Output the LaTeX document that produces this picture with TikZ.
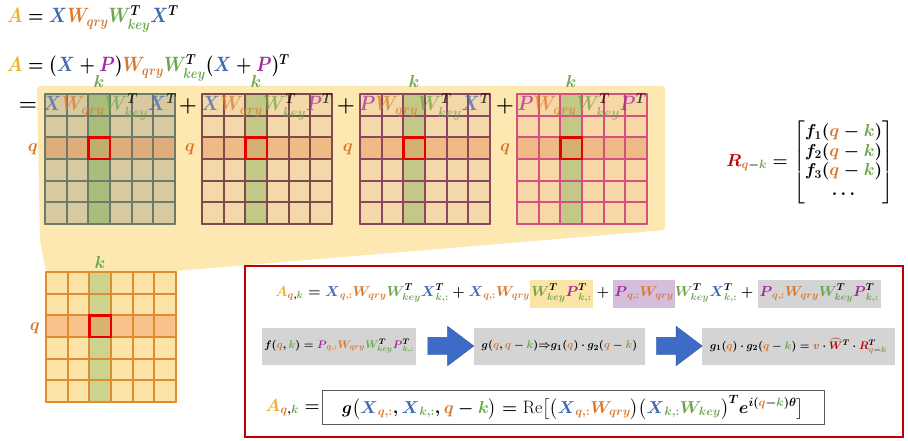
\documentclass[tikz,border=0pt]{standalone}
\usepackage{amsmath,bm,graphicx}
\usetikzlibrary{shapes.arrows,calc}
\definecolor{colA}{HTML}{F0B030}
\definecolor{colX}{HTML}{3E68B2}
\definecolor{colQ}{HTML}{D9782D}
\definecolor{colK}{HTML}{6BA64A}
\definecolor{colP}{HTML}{A5279F}
\definecolor{colR}{HTML}{C00000}
\definecolor{colV}{HTML}{C55A11}
\definecolor{bgY}{HTML}{FCE8B0}
\definecolor{gA}{HTML}{D8C9A0}\definecolor{lA}{HTML}{6E7A6A}
\definecolor{gcA}{HTML}{A9BD7D}\definecolor{grA}{HTML}{DDAE7B}\definecolor{gxA}{HTML}{C4AC6E}
\definecolor{gB}{HTML}{F3D9A9}\definecolor{lB}{HTML}{7E4A4A}
\definecolor{lC}{HTML}{8E4660}
\definecolor{gD}{HTML}{F8D7A6}\definecolor{lD}{HTML}{D4507E}
\definecolor{gcB}{HTML}{C3C887}\definecolor{grB}{HTML}{F0BA86}\definecolor{gxB}{HTML}{D4B070}
\definecolor{gE}{HTML}{FCE4A8}\definecolor{lE}{HTML}{E08C30}
\definecolor{gcE}{HTML}{CDD38F}\definecolor{grE}{HTML}{F7C189}\definecolor{gxE}{HTML}{D8B36D}
\definecolor{hlYc}{HTML}{FCE4A6}
\definecolor{hlPc}{HTML}{D5BDDC}
\definecolor{hlGc}{HTML}{D4D4D4}
\definecolor{arrB}{HTML}{3D6BC6}
\newcommand{\vA}{{\color{colA}A}}
\newcommand{\vX}{{\color{colX}X}}
\newcommand{\vP}{{\color{colP}P}}
\newcommand{\vq}{{\color{colQ}q}}
\newcommand{\vk}{{\color{colK}k}}
\newcommand{\Wqry}{{\color{colQ}W_{qry}}}
\newcommand{\WkeyT}{{\color{colK}W_{key}^{\textcolor{black}{T}}}}
\newcommand{\Wkey}{{\color{colK}W_{key}}}
\newcommand{\subq}{{\color{colQ}q,:}}
\newcommand{\subk}{{\color{colK}k,:}}
\newcommand{\sqz}[2]{\scalebox{#1}[1]{#2}}
\newcommand{\matgrid}[7]{%
  \fill[#3] (#1,#2) rectangle ++(130,130);
  \fill[#5] ({#1+43.33},#2) rectangle ++(21.67,130);
  \fill[#6] (#1,{#2+43.33}) rectangle ++(130,21.67);
  \fill[#7] ({#1+43.33},{#2+43.33}) rectangle ++(21.67,21.67);
  \foreach \gi in {0,...,6}{
    \draw[#4, gline] ({#1+\gi*21.667},#2) -- ++(0,130);
    \draw[#4, gline] (#1,{#2+\gi*21.667}) -- ++(130,0);
  }
  \draw[redsq] ({#1+43.33},{#2+43.33}) rectangle ++(21.67,21.67);
}
\tikzset{
  gline/.style={line width=1.8pt, line cap=round},
  redsq/.style={draw=red!90!black, line width=2.4pt},
  eqbig/.style={font=\boldmath\fontsize{20}{24}\selectfont, inner sep=0},
  hdr/.style={font=\boldmath\fontsize{20}{22}\selectfont, inner sep=0, text opacity=0.72, anchor=base},
  lbl/.style={font=\boldmath\fontsize{18}{20}\selectfont, inner sep=0},
  rowone/.style={font=\boldmath\fontsize{14.7}{18}\selectfont, inner sep=0, anchor=base west},
  hlbox/.style={rowone, inner xsep=1pt, text height=16pt, text depth=12pt},
  gbox/.style={fill=hlGc, font=\boldmath\fontsize{11.2}{13}\selectfont, minimum height=37pt, inner sep=0},
  barrow/.style={single arrow, fill=arrB, draw=arrB!80!black, line width=0.4pt, inner sep=0,
    minimum height=46pt, single arrow head extend=11pt, single arrow tip angle=74},
  rowthree/.style={font=\boldmath\fontsize{18}{22}\selectfont, inner sep=0}
}
\begin{document}
\begin{tikzpicture}[x=1pt,y=-1pt]
\useasboundingbox (0,0) rectangle (908,441);
\fill[white] (0,0) rectangle (908,441);
% top equations
\node[eqbig, anchor=base west] (eq1) at (7,23) {\sqz{0.85}{$\vA = \vX\Wqry\WkeyT\vX^{T}$}};
\node[eqbig, anchor=base west] (eq2) at (7,72) {\sqz{0.85}{$\vA = (\vX+\vP)\Wqry\WkeyT(\vX+\vP)^{T}$}};
% yellow background
\fill[bgY, rounded corners=3pt] (37,86) -- (665,86) -- (665,230) -- (176,271) -- (46,272) -- (40,240) -- cycle;
% grids
\matgrid{45}{94}{gA}{lA}{gcA}{grA}{gxA}
\matgrid{202}{94}{gB}{lB}{gcB}{grB}{gxB}
\matgrid{360}{94}{gB}{lC}{gcB}{grB}{gxB}
\matgrid{517}{94}{gD}{lD}{gcB}{grB}{gxB}
\matgrid{46}{272}{gE}{lE}{gcE}{grE}{gxE}
% headers
\node[hdr] (h1) at (110,111) {\sqz{0.88}{$\vX\Wqry\WkeyT\vX^{T}$}};
\node[hdr] (h2) at (267,111) {\sqz{0.88}{$\vX\Wqry\WkeyT\vP^{T}$}};
\node[hdr] (h3) at (425,111) {\sqz{0.88}{$\vP\Wqry\WkeyT\vX^{T}$}};
\node[hdr] (h4) at (582,111) {\sqz{0.88}{$\vP\Wqry\WkeyT\vP^{T}$}};
% operators
\node[eqbig] (eqs) at (28,106) {$=$};
\node[eqbig] (pl1) at (188,106) {$+$};
\node[eqbig] (pl2) at (346,106) {$+$};
\node[eqbig] (pl3) at (505,106) {$+$};
% k and q labels
\node[lbl] (k1) at (99,82) {$\vk$};
\node[lbl] (k2) at (256,82) {$\vk$};
\node[lbl] (k3) at (414,82) {$\vk$};
\node[lbl] (k4) at (571,82) {$\vk$};
\node[lbl] (k5) at (100,262) {$\vk$};
\node[lbl] (q1) at (33,149) {$\vq$};
\node[lbl] (q2) at (190,149) {$\vq$};
\node[lbl] (q3) at (348,149) {$\vq$};
\node[lbl] (q4) at (505,149) {$\vq$};
\node[lbl] (q5) at (35,328) {$\vq$};
% R matrix
\node[font=\boldmath\fontsize{18}{21}\selectfont, inner sep=0] (rm) at (810,162)
 {$\renewcommand{\arraystretch}{0.93}{\color{colR}R}_{\vq-\vk} = \begin{bmatrix} f_1(\vq-\vk)\\ f_2(\vq-\vk)\\ f_3(\vq-\vk)\\ \ldots \end{bmatrix}$};
% red frame
\draw[colR, line width=2.2pt] (245,266) rectangle (903,437);
% row one
\node[rowone] (r1a) at (275,296) {$\vA_{\vq,\vk} = \vX_{\subq}\Wqry\WkeyT\vX^{T}_{\subk} + \vX_{\subq}\Wqry$};
\node[hlbox, fill=hlYc] (r1b) at (r1a.base east) {$\WkeyT\vP^{T}_{\subk}$};
\node[rowone] (r1c) at (r1b.base east) {${}+{}$};
\node[hlbox, fill=hlPc] (r1d) at (r1c.base east) {$\vP_{\subq}\Wqry$};
\node[rowone] (r1e) at (r1d.base east) {$\WkeyT\vX^{T}_{\subk}{}+{}$};
\node[hlbox, fill=hlGc, inner xsep=2pt] (r1f) at (r1e.base east) {$\vP_{\subq}\Wqry\WkeyT\vP^{T}_{\subk}$};
% row two
\node[gbox, minimum width=154pt] (ba) at (339,346) {$f(\vq,\vk) = \vP_{\subq}\Wqry\WkeyT\vP^{T}_{\subk}$};
\node[gbox, minimum width=171pt] (bb) at (559.5,346) {$g(\vq,\vq-\vk){\Rightarrow}g_1(\vq)\cdot g_2(\vq-\vk)$};
\node[gbox, minimum width=193pt] (bc) at (798.5,346) {$g_1(\vq)\cdot g_2(\vq-\vk) = {\color{colV}v}\cdot{\color{colR}\widehat{W}}^{T}\cdot{\color{colR}R}^{T}_{\vq-\vk}$};
\node[barrow] (ar1) at ($(ba.east)!0.5!(bb.west)$) {\rule{0pt}{17pt}};
\node[barrow] (ar2) at ($(bb.east)!0.5!(bc.west)$) {\rule{0pt}{17pt}};
% row three
\node[rowthree, anchor=base east] (r3a) at (320,411) {$\vA_{\vq,\vk} =$};
\node[rowthree, draw=black!65, line width=0.8pt, minimum width=502pt, minimum height=34pt] (r3b) at (573,407)
 {$g\big(\vX_{\subq},\vX_{\subk},\vq-\vk\big) = \text{Re}\big[\big(\vX_{\subq}\Wqry\big)\big(\vX_{\subk}\Wkey\big)^{T} e^{i(\vq-\vk)\theta}\big]$};
\end{tikzpicture}
\end{document}
